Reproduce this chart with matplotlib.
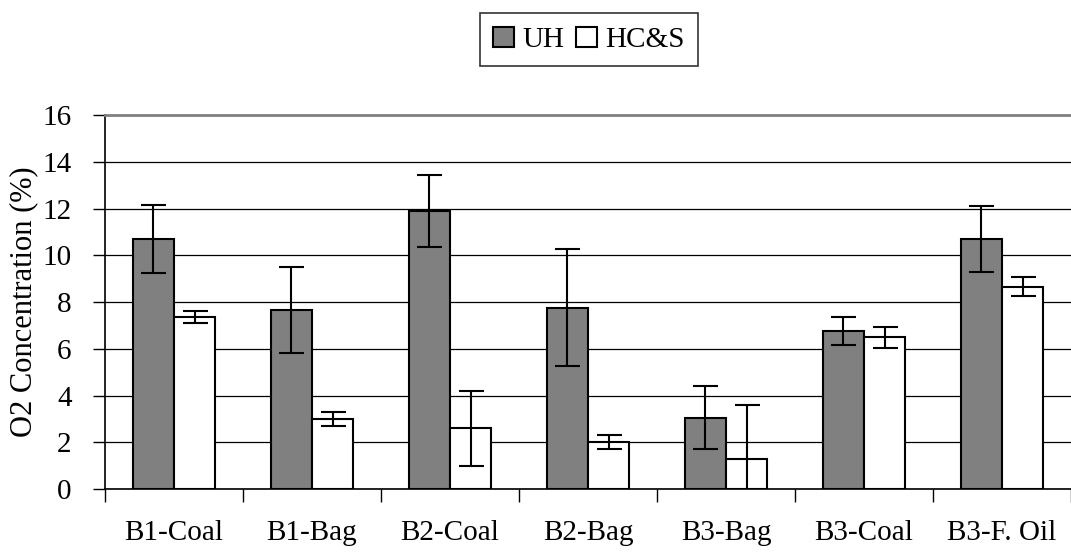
import matplotlib.pyplot as plt
import numpy as np

plt.rcParams['font.family'] = ['Liberation Serif', 'DejaVu Serif']

categories = ['B1-Coal', 'B1-Bag', 'B2-Coal', 'B2-Bag', 'B3-Bag', 'B3-Coal', 'B3-F. Oil']
uh = [10.7, 7.65, 11.9, 7.75, 3.05, 6.75, 10.7]
uh_err = [1.45, 1.85, 1.55, 2.5, 1.35, 0.6, 1.4]
hcs = [7.35, 3.0, 2.6, 2.0, 1.3, 6.5, 8.65]
hcs_err = [0.25, 0.3, 1.6, 0.3, 2.3, 0.45, 0.4]

x = np.arange(len(categories))
w = 0.3
fs = 21

fig = plt.figure(figsize=(10.71, 5.53), dpi=100)
ax = fig.add_axes([0.098, 0.1157, 0.902, 0.6763])

ax.bar(x - w/2, uh, w, color='#808080', edgecolor='black', linewidth=1.5, label='UH', zorder=3)
ax.bar(x + w/2, hcs, w, color='white', edgecolor='black', linewidth=1.5, label='HC&S', zorder=3)
ax.errorbar(x - w/2, uh, yerr=uh_err, fmt='none', ecolor='black', elinewidth=1.5,
            capsize=9, capthick=1.5, zorder=4)
ax.errorbar(x + w/2, hcs, yerr=hcs_err, fmt='none', ecolor='black', elinewidth=1.5,
            capsize=9, capthick=1.5, zorder=4)

ax.set_xlim(-0.5, len(categories) - 0.5)
ax.set_ylim(0, 16)
ax.set_yticks(np.arange(0, 17, 2))
ax.yaxis.grid(True, color='black', linewidth=0.9, zorder=0)
ax.set_axisbelow(True)

# category boundaries as major ticks, labels on minor ticks
ax.set_xticks(np.arange(-0.5, len(categories), 1.0))
ax.set_xticklabels([])
ax.set_xticks(x, minor=True)
ax.set_xticklabels(categories, minor=True)
ax.tick_params(axis='x', which='major', length=9, width=1, direction='out', color='black')
ax.tick_params(axis='x', which='minor', length=0, pad=22, labelsize=fs)
ax.tick_params(axis='y', length=9, width=1, direction='out', pad=15, labelsize=fs)

ax.spines['top'].set_color('#808080')
ax.spines['top'].set_linewidth(2)
ax.spines['right'].set_visible(False)
ax.spines['left'].set_linewidth(1.2)
ax.spines['bottom'].set_linewidth(1.2)

ax.set_ylabel('O2 Concentration (%)', fontsize=fs + 1, labelpad=3)

leg = fig.legend(loc='center', bbox_to_anchor=(0.55, 0.928), ncol=2, fontsize=fs,
                 frameon=True, fancybox=False, edgecolor='black', handlelength=0.7,
                 handleheight=0.7, handletextpad=0.3, columnspacing=0.4,
                 borderpad=0.45)
leg.get_frame().set_linewidth(1.2)

plt.savefig('out.png', dpi=100)
